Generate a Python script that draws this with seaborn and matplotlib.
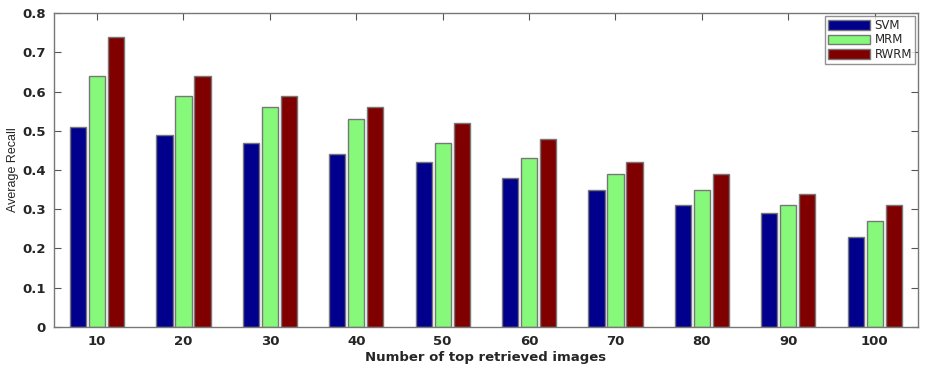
import matplotlib
matplotlib.use("Agg")
import matplotlib.pyplot as plt
import seaborn as sns
import pandas as pd

categories = ["10", "20", "30", "40", "50", "60", "70", "80", "90", "100"]
svm = [0.51, 0.49, 0.47, 0.44, 0.42, 0.38, 0.35, 0.31, 0.29, 0.23]
mrm = [0.64, 0.59, 0.56, 0.53, 0.47, 0.43, 0.39, 0.35, 0.31, 0.27]
rwrm = [0.74, 0.64, 0.59, 0.56, 0.52, 0.48, 0.42, 0.39, 0.34, 0.31]
methods = ["SVM", "MRM", "RWRM"]
colors = ["#00008C", "#86F97A", "#800000"]

rows = []
for name, vals in zip(methods, [svm, mrm, rwrm]):
    for c, v in zip(categories, vals):
        rows.append({"cat": c, "method": name, "value": v})
df = pd.DataFrame(rows)

sns.set_style("white")
plt.rcParams["font.family"] = ["DejaVu Sans"]

fig = plt.figure(figsize=(9.29, 3.66), dpi=100)
ax = fig.add_axes([0.058, 0.107, 0.93, 0.857])
sns.barplot(data=df, x="cat", y="value", hue="method", order=categories,
            hue_order=methods, palette=colors, width=0.66, gap=0.15,
            edgecolor="#777777", linewidth=1.0, saturation=1, ax=ax)

ax.set_xlim(-0.5, 9.5)
ax.set_ylim(0, 0.8)
ax.set_yticks([0, 0.1, 0.2, 0.3, 0.4, 0.5, 0.6, 0.7, 0.8])
ax.set_yticklabels(["0", "0.1", "0.2", "0.3", "0.4", "0.5", "0.6", "0.7", "0.8"])
for lab in ax.get_xticklabels() + ax.get_yticklabels():
    lab.set_fontweight("bold")
    lab.set_fontsize(9.5)
ax.tick_params(direction="in", length=5, width=0.8, color="#555555",
               top=True, right=True, bottom=True, left=True, pad=6)
for s in ax.spines.values():
    s.set_visible(True)
    s.set_color("#777777")
    s.set_linewidth(1.0)

ax.set_xlabel("Number of top retrieved images", fontsize=9.5, fontweight="bold", labelpad=2)
ax.set_ylabel("Average Recall", fontsize=9, family=["Liberation Sans Narrow", "Liberation Sans"])
ax.yaxis.set_label_coords(-0.04, 0.5)

handles, labels = ax.get_legend_handles_labels()
leg = ax.legend(handles, labels, loc="upper right", frameon=True, fancybox=False,
                fontsize=8.5, handlelength=3.5, handleheight=0.9, handletextpad=0.4,
                borderpad=0.3, labelspacing=0.12, borderaxespad=0.2)
leg.get_frame().set_edgecolor("#777777")
leg.get_frame().set_linewidth(1.0)

fig.savefig("out.png", dpi=100)
